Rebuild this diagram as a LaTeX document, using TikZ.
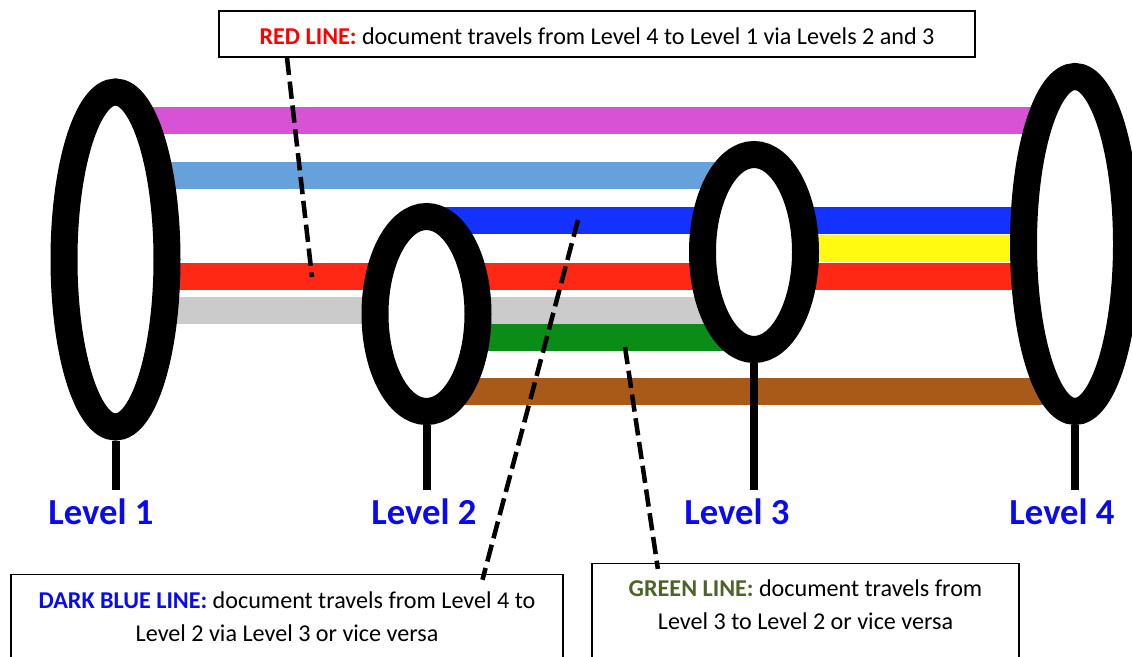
\documentclass[tikz,border=0pt]{standalone}
\usepackage{fontspec}
\setmainfont{Carlito}
\usetikzlibrary{positioning, shapes.geometric, backgrounds}

\definecolor{bandmagenta}{RGB}{216,82,214}
\definecolor{bandlightblue}{RGB}{102,161,220}
\definecolor{banddarkblue}{RGB}{20,50,255}
\definecolor{bandyellow}{RGB}{255,250,15}
\definecolor{bandred}{RGB}{255,40,20}
\definecolor{bandgrey}{RGB}{203,203,203}
\definecolor{bandgreen}{RGB}{11,140,22}
\definecolor{bandbrown}{RGB}{170,90,24}
\definecolor{levelblue}{RGB}{10,10,240}
\definecolor{olivetext}{RGB}{79,98,40}

\begin{document}
\begin{tikzpicture}[
  x=0.75pt, y=-0.75pt,
  band/.style={line width=20.25pt},
  ring/.style={draw, ellipse, fill=white, line width=20.25pt,
               minimum width=77.25pt, inner sep=0pt},
  bigring/.style={ring, minimum height=251.25pt},
  smallring/.style={ring, minimum height=146.25pt},
  stem/.style={line width=6pt},
  callout/.style={line width=3.4pt, dash pattern=on 13pt off 5pt},
  level/.style={font=\fontsize{27.5}{31}\selectfont\bfseries, text=levelblue,
                inner sep=0pt, text height=25.9pt, text depth=0pt, anchor=north},
  notebox/.style={draw, line width=1.1pt, fill=white, inner sep=0pt},
  notetext/.style={font=\fontsize{18.1}{24.75}\selectfont, align=center, inner sep=0pt}
]
\useasboundingbox (0,0) rectangle (1132,657);
\clip (0,0) rectangle (1132,657);

% ---- LEVEL LABELS ----
\node[level] (lab1) at (101,490) {Level 1};
\node[level] (lab2) at (424,490) {Level 2};
\node[level] (lab3) at (737,490) {Level 3};
\node[level] (lab4) at (1062,490) {Level 4};

% ---- RINGS ----
\node[bigring]   (lv1) at (115.5,259.5) {};
\node[smallring] (lv2) at (426.5,314) {};
\node[smallring] (lv3) at (754,252) {};
\node[bigring]   (lv4) at (1075,244) {};

% stems down to the labels
\foreach \n in {1,...,4}
  \draw[stem] (lv\n.south) -- (lv\n.south |- lab\n.north);

% ---- COLOURED LINES (behind the rings) ----
\begin{scope}[on background layer]
\foreach \y/\from/\to/\col in {120.5/lv1/lv4/bandmagenta, 175.5/lv1/lv3/bandlightblue,
    220.5/lv2/lv4/banddarkblue, 248/lv3/lv4/bandyellow, 276/lv1/lv4/bandred,
    310.5/lv1/lv3/bandgrey, 337.5/lv2/lv3/bandgreen, 391.5/lv2/lv4/bandbrown}
  \draw[band, \col] (\from.center |- 0,\y) -- (\to.center |- 0,\y);
\end{scope}

% ---- NOTE BOXES ----
\node[notebox, notetext, minimum width=567pt, minimum height=34.5pt,
      text height=15.3pt, text depth=0pt] (redbox) at (597,34)
  {\textcolor{red}{\textbf{RED LINE:}} document travels from Level 4 to Level 1 via Levels 2 and 3};

\node[notebox, anchor=north, minimum width=414pt, minimum height=75pt]
  (dbluebox) at (287,574) {};
\node[notetext, below=13pt of dbluebox.north] (dbluetext)
  {\textcolor{levelblue}{\textbf{DARK BLUE LINE:}} document travels from Level 4 to\\
   Level 2 via Level 3 or vice versa};

\node[notebox, anchor=north, minimum width=320.25pt, minimum height=75pt]
  (greenbox) at (805.5,563) {};
\node[notetext, below=12.25pt of greenbox.north] (greentext)
  {\textcolor{olivetext}{\textbf{GREEN LINE:}} document travels from\\
   Level 3 to Level 2 or vice versa};

% ---- CALLOUTS ----
\coordinate (redtip) at (312,277);
\coordinate (dbluetip) at (578,220);
\coordinate (greentip) at (625,347);
\draw[callout] (redbox.south -| 287,0) -- (redtip);
\draw[callout, shorten >=-4.5pt] (dbluetip) -- (dbluebox.north -| 484,0);
\draw[callout, shorten >=-4.5pt] (greentip) -- (greenbox.north -| 657,0);

\end{tikzpicture}
\end{document}
